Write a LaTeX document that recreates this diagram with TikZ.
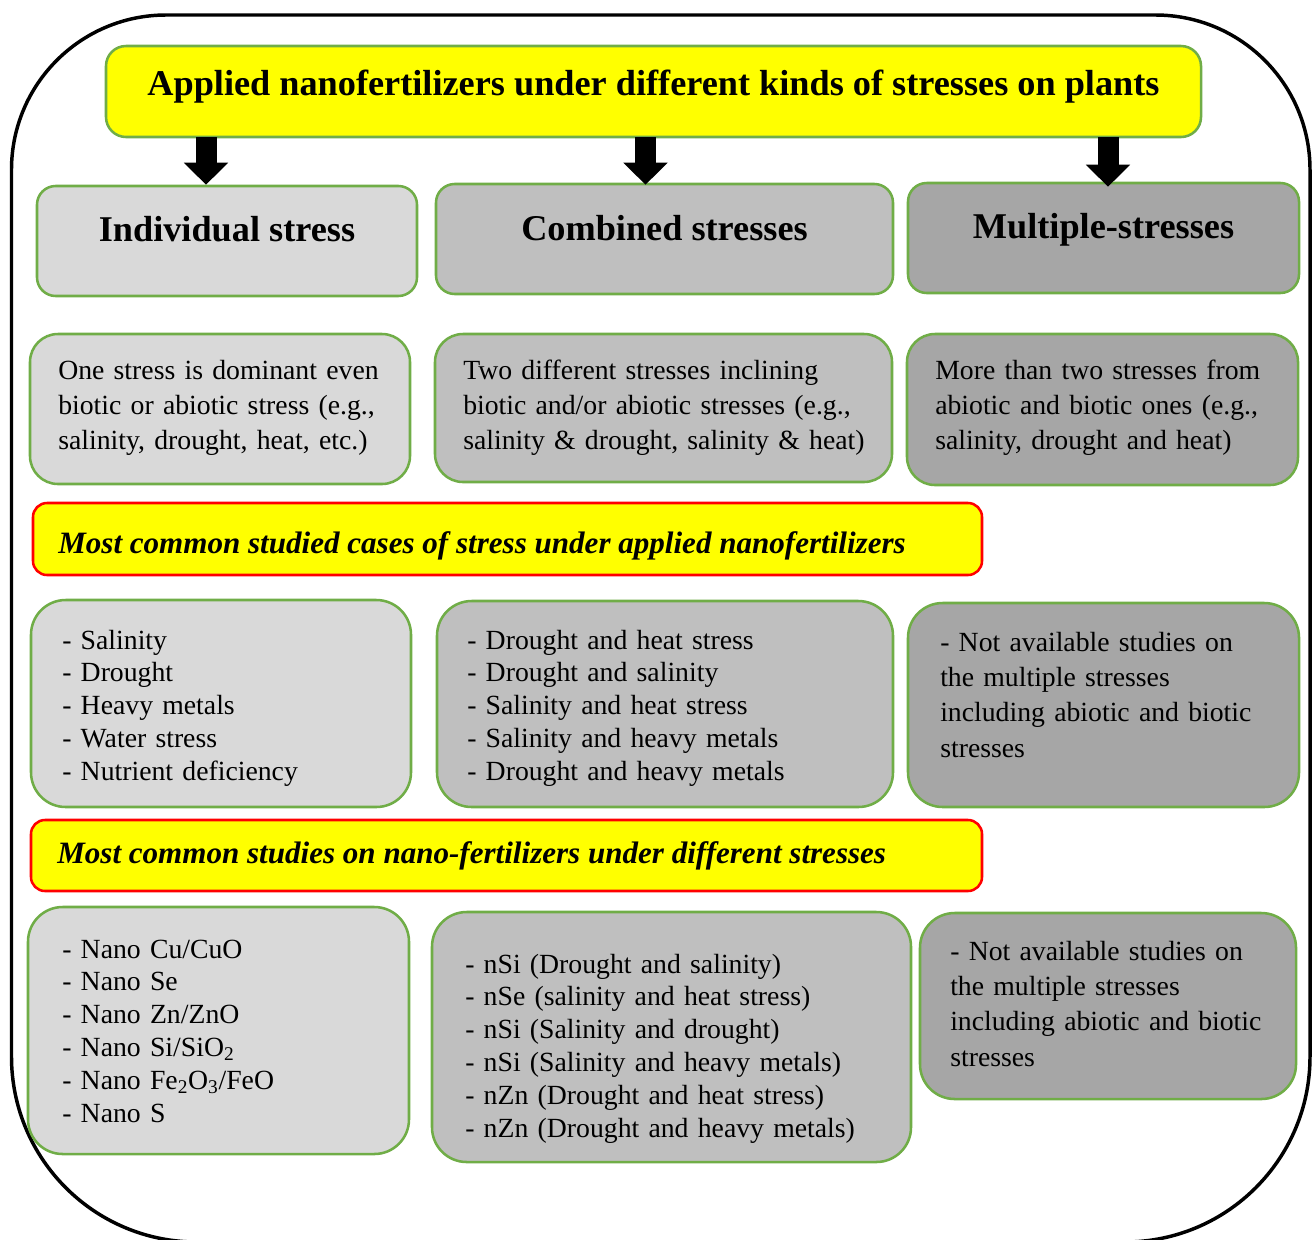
\documentclass[tikz,border=0pt]{standalone}
\usepackage{fontspec}
\setmainfont[Ligatures=CommonOff]{Liberation Serif}
\usetikzlibrary{arrows.meta,calc}
\definecolor{gA}{HTML}{D9D9D9}
\definecolor{gB}{HTML}{BFBFBF}
\definecolor{gC}{HTML}{A6A6A6}
\definecolor{grn}{HTML}{70AD47}
\definecolor{ylw}{HTML}{FFFF00}
\definecolor{rd}{HTML}{FF0000}
% box from left/top to right/bottom, in pixels
\newcommand\mkbox[6]{\node[#1, minimum width={(#4-#2)*0.75pt}, minimum height={(#5-#3)*0.75pt}] (#6) at ({(#2+#4)/2},{(#3+#5)/2}) {};}
\begin{document}
\begin{tikzpicture}[x=0.75pt,y=-0.75pt,
  frame/.style={draw=black, line width=2.6pt},
  gbox/.style={rectangle, draw=grn, line width=1.9pt, inner sep=0pt},
  headbox/.style={gbox, rounded corners=14pt},
  descbox/.style={gbox, rounded corners=21pt},
  listbox/.style={gbox, rounded corners=26pt},
  titlebox/.style={gbox, fill=ylw, rounded corners=15pt},
  banbox/.style={rectangle, draw=rd, line width=1.9pt, fill=ylw, inner sep=0pt, rounded corners=10.5pt},
  bigarrow/.style={line width=15.75pt, -{Triangle[length=16.5pt, width=32.25pt]}},
  headtxt/.style={anchor=base, inner sep=0pt, font=\fontsize{27.2pt}{32pt}\selectfont\bfseries},
  bantxt/.style={anchor=base west, inner sep=0pt, font=\fontsize{23.3pt}{28pt}\selectfont\bfseries\itshape},
  desctxt/.style={anchor=base west, inner sep=0pt, align=left, font=\fontsize{20.8pt}{26.6pt}\selectfont},
  listtxt/.style={anchor=base west, inner sep=0pt, align=left, font=\fontsize{20.8pt}{24.6pt}\selectfont},
  nonetxt/.style={anchor=base west, inner sep=0pt, align=left, font=\fontsize{20.8pt}{26.5pt}\selectfont},
]
\useasboundingbox (0,0) rectangle (1313,1239);
\fill[white] (0,0) rectangle (1313,1239);

% outer frame
\draw[frame] (11.5,640) [rounded corners=116pt] -- (11.5,15) -- (1310,15) -- (1310,640)
  [rounded corners=139pt] -- (1310,1242) -- (11.5,1242) -- cycle;

% title
\mkbox{titlebox}{106}{46}{1201}{137}{title}
\node[headtxt] (titleT) at (653.5,95) {Applied nanofertilizers under different kinds of stresses on plants};

% headings
\mkbox{headbox, fill=gA}{37}{186}{417}{296}{ind}
\mkbox{headbox, fill=gB}{436}{184}{893}{294}{comb}
\mkbox{headbox, fill=gC}{908}{183}{1299}{293}{mult}
\node[headtxt] (indT) at (227,241) {Individual stress};
\node[headtxt] (combT) at (664.5,240) {Combined stresses};
\node[headtxt] (multT) at (1103.5,238) {Multiple-stresses};

% arrows
\coordinate (a1) at (206,137);
\coordinate (a2) at (645.5,137);
\coordinate (a3) at (1108,137);
\draw[bigarrow] (a1) -- (a1 |- ind.north);
\draw[bigarrow] (a2) -- ($(a2 |- comb.north)+(0,2)$);
\draw[bigarrow] (a3) -- ($(a3 |- mult.north)+(0,5)$);

% descriptions
\mkbox{descbox, fill=gA}{30}{334}{410}{484}{d1}
\mkbox{descbox, fill=gB}{435}{334}{892}{482}{d2}
\mkbox{descbox, fill=gC}{907}{334}{1298}{485}{d3}
\node[desctxt, text width=259pt] (d1T) at (58,379) {One stress is dominant even\\biotic or abiotic stress (e.g.,\\salinity, drought, heat, etc.)};
\node[desctxt, text width=317pt] (d2T) at (463,379) {Two different stresses inclining\\biotic and/or abiotic stresses (e.g.,\\salinity \& drought, salinity \& heat)};
\node[desctxt, text width=268pt] (d3T) at (935,379) {More than two stresses from\\abiotic and biotic ones (e.g.,\\salinity, drought and heat)};

% banner 1
\mkbox{banbox}{33}{503}{982}{575}{ban1}
\node[bantxt] (ban1T) at (58,553) {Most common studied cases of stress under applied nanofertilizers};

% stress cases
\mkbox{listbox, fill=gA}{31}{600}{411}{807}{l1}
\mkbox{listbox, fill=gB}{437}{601}{893}{807}{l2}
\mkbox{listbox, fill=gC}{908}{603}{1299}{807}{l3}
\node[listtxt, text width=257pt] (l1T) at (62,649) {- Salinity\\- Drought\\- Heavy metals\\- Water stress\\- Nutrient deficiency};
\node[listtxt, text width=315pt] (l2T) at (467,649) {- Drought and heat stress\\- Drought and salinity\\- Salinity and heat stress\\- Salinity and heavy metals\\- Drought and heavy metals};
\node[nonetxt, text width=265pt] (l3T) at (940,651) {- Not available studies on\\the multiple stresses\\including abiotic and biotic\\stresses};

% banner 2
\mkbox{banbox}{31}{820}{982}{891}{ban2}
\node[bantxt] (ban2T) at (57,863) {Most common studies on nano-fertilizers under different stresses};

% nano-fertilizers
\mkbox{listbox, fill=gA}{28}{907}{409}{1154}{b1}
\mkbox{listbox, fill=gB}{432}{912}{911}{1162}{b2}
\mkbox{listbox, fill=gC}{920}{913}{1296}{1099}{b3}
\node[listtxt, text width=256pt] (b1T) at (62,958) {- Nano Cu/CuO\\- Nano Se\\- Nano Zn/ZnO\\- Nano Si/SiO\textsubscript{2}\\- Nano Fe\textsubscript{2}O\textsubscript{3}/FeO\\- Nano S};
\node[listtxt, text width=330pt] (b2T) at (465,973) {- nSi (Drought and salinity)\\- nSe (salinity and heat stress)\\- nSi (Salinity and drought)\\- nSi (Salinity and heavy metals)\\- nZn (Drought and heat stress)\\- nZn (Drought and heavy metals)};
\node[nonetxt, text width=255pt] (b3T) at (950,960) {- Not available studies on\\the multiple stresses\\including abiotic and biotic\\stresses};
\end{tikzpicture}
\end{document}
